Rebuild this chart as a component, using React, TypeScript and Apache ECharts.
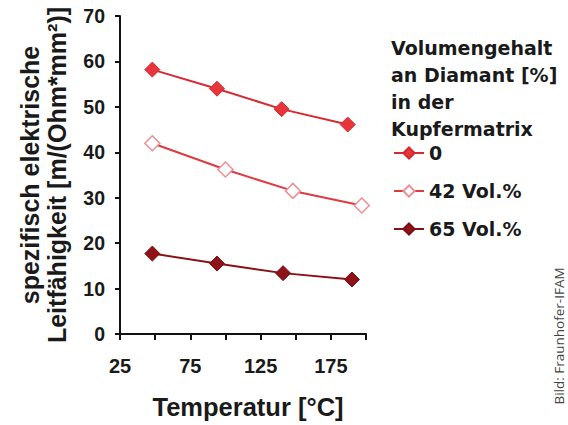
import React, { useEffect, useRef } from "react";
import * as echarts from "echarts";

const seriesNames = ["0", "42 Vol.%", "65 Vol.%"];
const temps0 = [48, 94, 140, 187];
const values0 = [58.2, 54.0, 49.5, 46.1];
const temps42 = [48, 100, 148, 197];
const values42 = [42.0, 36.2, 31.5, 28.3];
const temps65 = [48, 94, 141, 190];
const values65 = [17.7, 15.5, 13.4, 12.0];
const legendTitle = ["Volumengehalt", "an Diamant [%]", "in der", "Kupfermatrix"];
const xTitle = "Temperatur [°C]";
const yTitle = "spezifisch elektrische\nLeitfähigkeit [m/(Ohm*mm²)]";
const credit = "Bild: Fraunhofer-IFAM";

const FONT = "Liberation Sans";
const WIDE = "DejaVu Sans";

export default function App() {
  const ref = useRef<HTMLDivElement>(null);
  useEffect(() => {
    if (!ref.current) return;
    const chart = echarts.init(ref.current, undefined, { renderer: "svg" });
    const pairs = (xs: number[], ys: number[]) => xs.map((x, i) => [x, ys[i]]);
    chart.setOption({
      animation: false,
      backgroundColor: "#ffffff",
      grid: { left: 120, top: 16, right: 202, bottom: 88, containLabel: false },
      xAxis: {
        type: "value",
        min: 25,
        max: 200,
        interval: 25,
        splitLine: { show: false },
        axisLine: { lineStyle: { color: "#111", width: 2 } },
        axisTick: { show: true, length: 6, lineStyle: { color: "#111", width: 2 } },
        axisLabel: {
          color: "#1a1a1a",
          fontFamily: FONT,
          fontWeight: "bold",
          fontSize: 20,
          margin: 22,
          formatter: (v: number) => ((v - 25) % 50 === 0 ? String(v) : ""),
        },
        name: xTitle,
        nameLocation: "middle",
        nameGap: 60,
        nameTextStyle: {
          color: "#1a1a1a",
          fontFamily: FONT,
          fontWeight: "bold",
          fontSize: 25.5,
          padding: [0, 0, 0, 10],
        },
      },
      yAxis: {
        type: "value",
        min: 0,
        max: 70,
        interval: 10,
        splitLine: { show: false },
        axisLine: { show: true, lineStyle: { color: "#111", width: 2 } },
        axisTick: { show: true, length: 5, lineStyle: { color: "#111", width: 2 } },
        axisLabel: {
          color: "#1a1a1a",
          fontFamily: FONT,
          fontWeight: "bold",
          fontSize: 19.5,
          margin: 15,
        },
        name: yTitle,
        nameLocation: "middle",
        nameGap: 50,
        nameRotate: 90,
        nameTextStyle: {
          color: "#1a1a1a",
          fontFamily: FONT,
          fontWeight: "bold",
          fontSize: 25,
          lineHeight: 27,
        },
      },
      legend: {
        orient: "vertical",
        left: 388,
        top: 138.5,
        itemGap: 19,
        itemWidth: 30,
        itemHeight: 14,
        textStyle: { color: "#1a1a1a", fontFamily: WIDE, fontWeight: "bold", fontSize: 19 },
        data: seriesNames,
      },
      graphic: [
        {
          type: "text",
          left: 391,
          top: 34,
          style: {
            text: legendTitle.join("\n"),
            fill: "#1a1a1a",
            font: `bold 19px "${WIDE}"`,
            lineHeight: 27,
          },
        },
        {
          type: "text",
          x: 559,
          y: 336,
          rotation: Math.PI / 2,
          style: {
            text: credit,
            fill: "#444",
            font: `13.5px "Open Sans"`,
            align: "center",
            verticalAlign: "middle",
          },
        },
      ],
      series: [
        {
          name: seriesNames[0],
          type: "line",
          data: pairs(temps0, values0),
          symbol: "diamond",
          symbolSize: 15,
          lineStyle: { color: "#d42a30", width: 2 },
          itemStyle: { color: "#e8353c", borderColor: "#cf2a30", borderWidth: 1 },
        },
        {
          name: seriesNames[1],
          type: "line",
          data: pairs(temps42, values42),
          symbol: "diamond",
          symbolSize: 15,
          lineStyle: { color: "#e03a40", width: 2 },
          itemStyle: { color: "#ffffff", borderColor: "#ec8f94", borderWidth: 1.5 },
        },
        {
          name: seriesNames[2],
          type: "line",
          data: pairs(temps65, values65),
          symbol: "diamond",
          symbolSize: 15,
          lineStyle: { color: "#8a1016", width: 2 },
          itemStyle: { color: "#8e1218", borderColor: "#7a0c12", borderWidth: 1 },
        },
      ],
    });
    return () => chart.dispose();
  }, []);
  return <div ref={ref} style={{ width: 568, height: 425, position: "absolute", left: 0, top: 0 }} />;
}
